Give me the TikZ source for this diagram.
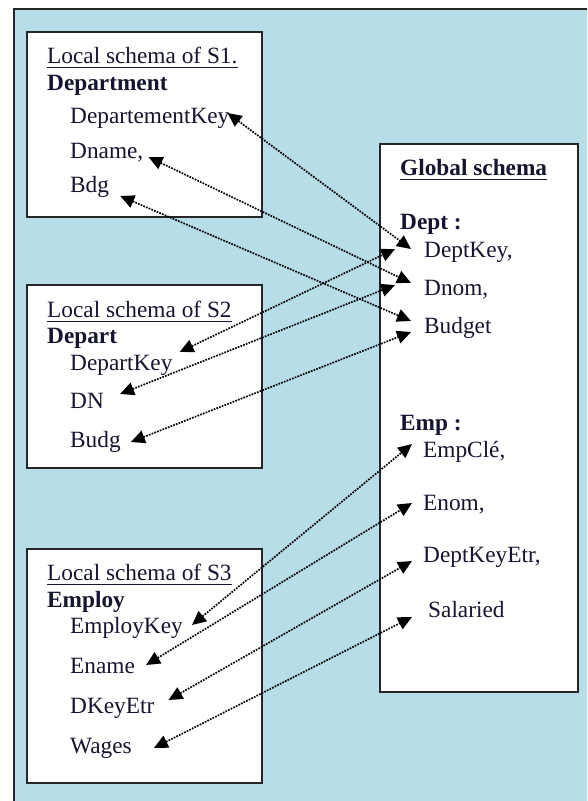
\documentclass[tikz,border=0pt]{standalone}
\usepackage{fontspec}
\setmainfont{Liberation Serif}
\usetikzlibrary{arrows.meta}
\definecolor{panelblue}{HTML}{B6DDE8}
\definecolor{inkblue}{HTML}{151530}

\begin{document}
\begin{tikzpicture}[x=1pt, y=-1pt,
  box/.style={draw=black!85, line width=2pt, fill=white},
  txt/.style={anchor=base west, inner sep=0pt, font=\fontsize{23.3}{27}\selectfont, text=inkblue},
  head/.style={txt, font=\fontsize{23.3}{27}\selectfont\bfseries},
  link/.style={{Triangle[length=14pt,width=13pt]}-{Triangle[length=14pt,width=13pt]}, line width=1.7pt, dash pattern=on 1.7pt off 1.2pt}]
\useasboundingbox (0,0) rectangle (587,801);
\begin{scope}
\clip (0,0) rectangle (587,801);
\fill[panelblue] (14,9) rectangle (600,820);
\draw[black!85, line width=2pt] (600,9) -- (14,9) -- (14,820);
\end{scope}
% the four schema boxes
\draw[box] (27,32) rectangle (262,217);
\draw[box] (27,285) rectangle (262,468);
\draw[box] (27,549) rectangle (262,783);
\draw[box] (380,144) rectangle (578,692);
% local schema of S1
\node[txt]  (t1) at (47,63) {Local schema of S1.};
\node[head] (e1) at (47,90) {Department};
\node[txt]  (s1key) at (70,123) {DepartementKey};
\node[txt]  (s1name) at (70,158) {Dname,};
\node[txt]  (s1bdg) at (70,192) {Bdg};
% local schema of S2
\node[txt]  (t2) at (47,317) {Local schema of S2};
\node[head] (e2) at (47,343) {Depart};
\node[txt]  (s2key) at (70,370) {DepartKey};
\node[txt]  (s2dn) at (70,408) {DN};
\node[txt]  (s2budg) at (70,447) {Budg};
% local schema of S3
\node[txt]  (t3) at (47,580) {Local schema of S3};
\node[head] (e3) at (47,607) {Employ};
\node[txt]  (s3key) at (70,633) {EmployKey};
\node[txt]  (s3name) at (70,673) {Ename};
\node[txt]  (s3dkey) at (70,713) {DKeyEtr};
\node[txt]  (s3wages) at (70,753) {Wages};
% global schema
\node[head] (gt) at (400,175) {Global schema};
\node[head] (gdept) at (400,229) {Dept :};
\node[txt]  (gkey) at (424,257) {DeptKey,};
\node[txt]  (gnom) at (424,295) {Dnom,};
\node[txt]  (gbudget) at (424,333) {Budget};
\node[head] (gemp) at (400,430) {Emp :};
\node[txt]  (gempkey) at (423,457) {EmpClé,};
\node[txt]  (genom) at (423,510) {Enom,};
\node[txt]  (gdkey) at (423,562) {DeptKeyEtr,};
\node[txt]  (gsal) at (428,617) {Salaried};
\foreach \t in {t1,t2,t3,gt}{
\draw[inkblue, line width=1.5pt] ([yshift=-4.5pt]\t.base west) -- ([yshift=-4.5pt]\t.base east);
}
% correspondences
\foreach \a/\da/\b/\db in {s1key/{-2,-10}/gkey/{-13,-8}, s1name/{5,-1}/gnom/{-13,-12},
  s1bdg/{11,4}/gbudget/{-13,-12}, s2key/{7,-18}/gkey/{-29,-8}, s2dn/{16,-14}/gnom/{-29,-10},
  s2budg/{10,-5}/gbudget/{-13,-1}, s3key/{9,-8}/gempkey/{-11,-13}, s3name/{11,-8}/genom/{-11,-7},
  s3dkey/{14,-13}/gdkey/{-11,-1}, s3wages/{22,-5}/gsal/{-16,0}}{
\draw[link] ([shift={(\da)}]\a.base east) -- ([shift={(\db)}]\b.base west);
}
\end{tikzpicture}
\end{document}
